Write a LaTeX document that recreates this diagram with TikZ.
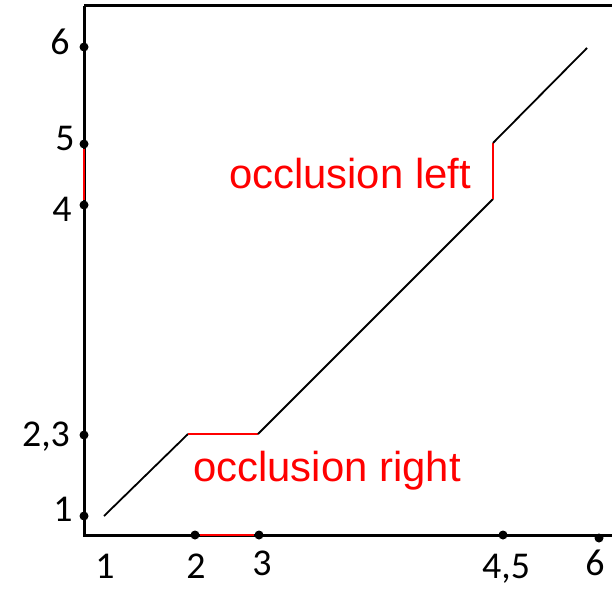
\documentclass[tikz,border=0pt]{standalone}
\usepackage{fontspec}
\setmainfont{Carlito}
\newfontfamily\labfont{Liberation Sans}
\usetikzlibrary{positioning}

\begin{document}
\begin{tikzpicture}[
  x=1bp, y=-1bp,
  dot/.style={circle, fill=black, inner sep=0pt, minimum size=9bp},
  num/.style={anchor=base, inner sep=0pt, font=\fontsize{38}{40}\selectfont},
  occl/.style={anchor=base, inner sep=0pt, text=red, font=\labfont\fontsize{42}{44}\selectfont},
  axis/.style={line width=3bp},
  path/.style={line width=1.8bp},
  gap/.style={line width=2.2bp, red}
]
\useasboundingbox (0,0) rectangle (612,590);

% Rahmen
\draw[axis] (84,6) -- (612,6);
\draw[axis] (84,6) -- (84,535) -- (612,535);

% linke Achse
\node[dot] (L6) at (84,47) {};
\node[dot] (L5) at (84,144) {};
\node[dot] (L4) at (84,205) {};
\node[dot] (L23) at (84,435) {};
\node[dot] (L1) at (84,516) {};
\draw[gap] (L5.south) -- (L4.north);

\node[num] at (60,55) {6};
\node[num] at (65,151) {5};
\node[num] at (62,221) {4};
\node[num] at (46,446) {2,3};
\node[num] at (63,521) {1};

% untere Achse
\node[dot] (B2) at (195,535) {};
\node[dot] (B3) at (259,535) {};
\node[dot] (B45) at (503,535) {};
\node[dot] (B6) at (599,538) {};
\draw[gap] (B2.east) -- (B3.west);

\node[num] at (105,578) {1};
\node[num] at (196,578) {2};
\node[num] at (262,575) {3};
\node[num] at (506,578) {4,5};
\node[num] at (595,575) {6};

% Zuordnungspfad
\coordinate (p1) at (104,516);
\coordinate (p2) at (188,434);
\coordinate (p3) at (258,434);
\coordinate (p4) at (493,199);
\coordinate (p5) at (493,143);
\coordinate (p6) at (587,48);
\draw[path] (p1) -- (p2);
\draw[path, red] (p2) -- (p3);
\draw[path] (p3) -- (p4);
\draw[path, red] (p4) -- (p5);
\draw[path] (p5) -- (p6);

\node[occl] (oleft) at (350,188) {occlusion left};
\node[occl] (oright) at (327,481) {occlusion right};
\end{tikzpicture}
\end{document}
